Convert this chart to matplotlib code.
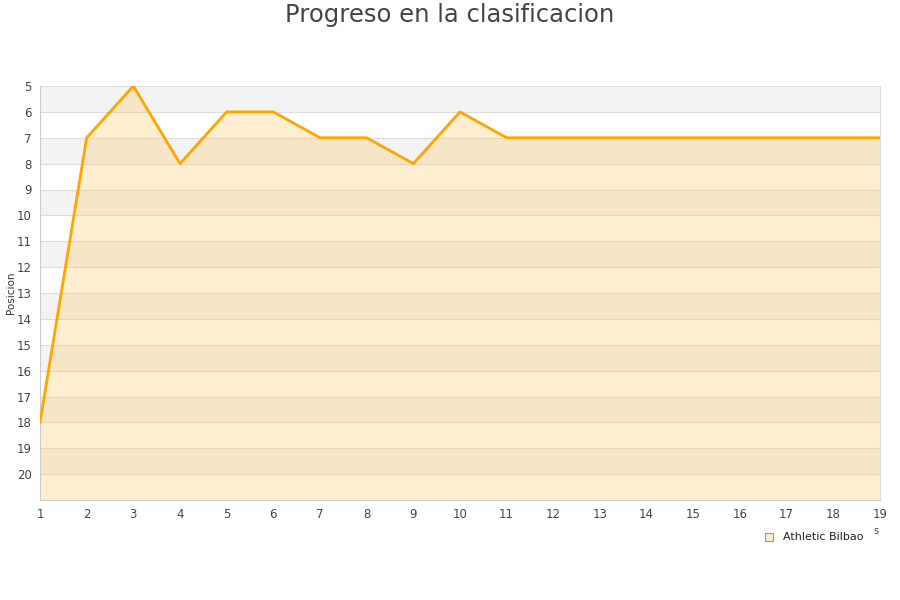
import numpy as np
import matplotlib; matplotlib.use("Agg")
import matplotlib.pyplot as plt
from matplotlib.patches import Rectangle

jornadas = list(range(1, 20))
posicion = [18, 7, 5, 8, 6, 6, 7, 7, 8, 6, 7, 7, 7, 7, 7, 7, 7, 7, 7]
equipo = "Athletic Bilbao"
titulo = "Progreso en la clasificacion"

fig = plt.figure(figsize=(9, 6), dpi=100)
ax = fig.add_axes([40 / 900, 1 - 500 / 600, 840 / 900, 414 / 600])
ymin, ymax = 5, 21
ax.set_xlim(1, 19)
ax.set_ylim(ymax, ymin)

# alternating bands
for y0 in range(ymin, ymax):
    if y0 % 2 == 1:
        ax.axhspan(y0, y0 + 1, color="#f3f3f3", lw=0, zorder=0)
for y0 in range(ymin, ymax + 1):
    ax.axhline(y0, color="#dddddd", lw=0.8, zorder=1)

ax.fill_between(jornadas, posicion, ymax, color="#ffc864", alpha=0.3, lw=0, zorder=2)
ax.plot(jornadas, posicion, color="#ffa500", lw=2.0, zorder=3)

ax.set_yticks(range(5, 21))
ax.set_xticks(jornadas)
ax.tick_params(axis="both", length=0, labelsize=8.5, labelcolor="#444444", pad=6)
for s in ax.spines.values():
    s.set_color("#cccccc")
ax.spines["top"].set_visible(False)
ax.spines["right"].set_color("#dddddd")
fig.text(11 / 900, 1 - 293 / 600, "Posicion", rotation=90, ha="center", va="center",
         fontsize=7.5, color="#333333")

fig.text(0.5, 1 - 15 / 600, titulo, ha="center", va="center", fontsize=17.5, color="#444444")

# legend
fig.patches.append(Rectangle((765 / 900, 1 - 541 / 600), 8 / 900, 8 / 600, transform=fig.transFigure,
                             facecolor="#ffeccc", edgecolor="#999999", lw=0.8))
fig.text(783 / 900, 1 - 537 / 600, equipo, ha="left", va="center", fontsize=8, color="#222222")
fig.text(876 / 900, 1 - 531 / 600, "s", ha="center", va="center", fontsize=7, color="#444444")

plt.savefig("out.png", dpi=100)
